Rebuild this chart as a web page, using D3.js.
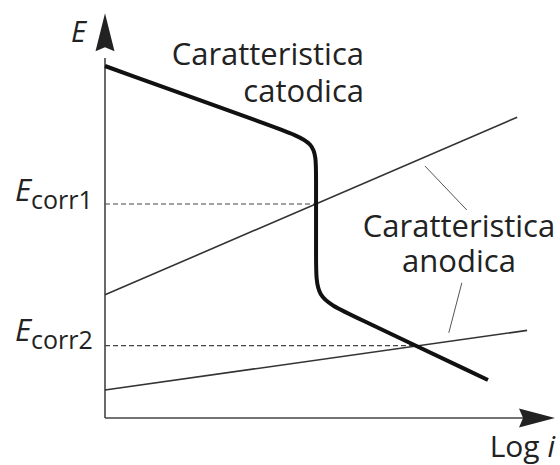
<!DOCTYPE html>
<html>
<head>
<meta charset="utf-8">
<script src="https://cdn.jsdelivr.net/npm/d3@7"></script>
<style>
  html, body { margin: 0; padding: 0; background: #fff; }
  svg { display: block; }
  text { font-family: "Open Sans", "Noto Sans", sans-serif; fill: #222; }
</style>
</head>
<body>
<svg id="chart" width="560" height="465"></svg>
<script>
// Schematic polarization diagram: E vs log i (arbitrary units)

// Cathodic characteristic (thick), points in [log i, E]
const cathodicLogI = [0, 3.9, 4.69, 4.69, 4.69, 4.69, 5.33, 8.51];
const cathodicE    = [8.8, 7.22, 6.89, 6.2, 3.9, 3.0, 2.65, 0.95];

// Two anodic characteristics (straight lines)
const anodic1LogI = [0, 9.16];
const anodic1E    = [3.08, 7.52];
const anodic2LogI = [0, 9.38];
const anodic2E    = [0.70, 2.19];

// Corrosion potentials and the log i where each is reached
const ecorrNames = ["corr1", "corr2"];
const ecorrE     = [5.35, 1.81];
const ecorrLogI  = [4.69, 6.93];

// Leader lines from the anodic label to the two anodic lines
const leaderFromLogI = [7.11, 7.93];
const leaderFromE    = [6.30, 3.38];
const leaderToLogI   = [8.04, 7.64];
const leaderToE      = [5.20, 2.13];

const svg = d3.select("#chart");
const x = d3.scaleLinear().domain([0, 10]).range([105, 555]);
const y = d3.scaleLinear().domain([0, 10]).range([418, 18]);

const ink = "#222";
const thin = "#333";

// Axes (domain lines only, no ticks)
svg.append("g")
  .attr("transform", `translate(0,${y(0)})`)
  .call(d3.axisBottom(x).tickValues([]).tickSizeOuter(0))
  .call(g => g.select(".domain").attr("stroke", "#444").attr("stroke-width", 1.6)
    .attr("d", `M${x(0)},0H${x(9.4)}`));
svg.append("g")
  .attr("transform", `translate(${x(0)},0)`)
  .call(d3.axisLeft(y).tickValues([]).tickSizeOuter(0))
  .call(g => g.select(".domain").attr("stroke", "#444").attr("stroke-width", 1.6)
    .attr("d", `M0,${y(0)}V${y(9.0)}`));

// Arrow heads
const ax = x(0), ay = y(0);
svg.append("path")
  .attr("d", `M${ax},${y(10.12)} L${ax + 9.5},${y(9.17)} L${ax},${y(9.27)} L${ax - 9.5},${y(9.17)} Z`)
  .attr("fill", ink);
svg.append("path")
  .attr("d", `M${x(10)},${ay} L${x(9.2)},${ay - 9.5} L${x(9.29)},${ay} L${x(9.2)},${ay + 9.5} Z`)
  .attr("fill", ink);

// Dashed corrosion-potential guides
ecorrE.forEach((e, i) => {
  svg.append("line")
    .attr("x1", x(0)).attr("x2", x(ecorrLogI[i]))
    .attr("y1", y(e)).attr("y2", y(e))
    .attr("stroke", "#444").attr("stroke-width", 1.1)
    .attr("stroke-dasharray", "5,3");
});

const line = d3.line().x(d => x(d[0])).y(d => y(d[1]));

// Anodic lines
[[anodic1LogI, anodic1E], [anodic2LogI, anodic2E]].forEach(([li, e]) => {
  svg.append("path")
    .attr("d", line(d3.zip(li, e)))
    .attr("fill", "none").attr("stroke", thin).attr("stroke-width", 1.6);
});

// Cathodic curve with rounded knees
svg.append("path")
  .attr("d", line.curve(d3.curveBasis)(d3.zip(cathodicLogI, cathodicE)))
  .attr("fill", "none").attr("stroke", "#111").attr("stroke-width", 4)
  .attr("stroke-linecap", "butt");

// Leader lines
leaderFromLogI.forEach((v, i) => {
  svg.append("line")
    .attr("x1", x(v)).attr("y1", y(leaderFromE[i]))
    .attr("x2", x(leaderToLogI[i])).attr("y2", y(leaderToE[i]))
    .attr("stroke", "#555").attr("stroke-width", 1);
});

// Labels
svg.append("text").attr("x", 71).attr("y", 42)
  .attr("font-size", 29).attr("font-style", "italic").text("E");

const labelY = [201, 341];
ecorrNames.forEach((n, i) => {
  const t = svg.append("text").attr("x", 15).attr("y", labelY[i]);
  t.append("tspan").attr("font-size", 31).attr("font-style", "italic").text("E");
  t.append("tspan").attr("font-size", 25).attr("dy", 8).text(n);
});

svg.append("text").attr("x", 364).attr("y", 65).attr("text-anchor", "end")
  .attr("font-size", 31).text("Caratteristica");
svg.append("text").attr("x", 364).attr("y", 102).attr("text-anchor", "end")
  .attr("font-size", 31).text("catodica");

svg.append("text").attr("x", 459).attr("y", 237).attr("text-anchor", "middle")
  .attr("font-size", 31).text("Caratteristica");
svg.append("text").attr("x", 459).attr("y", 272).attr("text-anchor", "middle")
  .attr("font-size", 31).text("anodica");

const logI = svg.append("text").attr("x", 555).attr("y", 457).attr("text-anchor", "end")
  .attr("font-size", 30);
logI.append("tspan").text("Log ");
logI.append("tspan").attr("font-style", "italic").text("i");
</script>
</body>
</html>
